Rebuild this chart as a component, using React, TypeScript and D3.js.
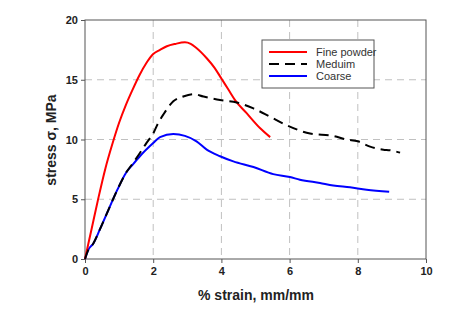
import { useEffect, useRef } from "react"
import * as d3 from "d3"

// Fine powder (red)
const fineX = [0, 0.2, 0.4, 0.6, 0.8, 1.0, 1.2, 1.4, 1.6, 1.8, 2.0, 2.2, 2.4, 2.65, 2.93, 3.1, 3.25, 3.57, 3.8, 4.0, 4.2, 4.4, 4.74, 5.13, 5.43]
const fineY = [0, 2.6, 5.2, 7.6, 9.6, 11.4, 12.9, 14.2, 15.4, 16.4, 17.15, 17.5, 17.8, 18.0, 18.13, 18.0, 17.7, 16.8, 16.0, 15.1, 14.2, 13.3, 12.2, 10.96, 10.2]

// Meduim (black dashed)
const medX = [0, 0.1, 0.24, 0.44, 0.7, 0.95, 1.2, 1.4, 1.61, 1.8, 2.0, 2.15, 2.3, 2.59, 2.88, 3.18, 3.47, 3.96, 4.45, 4.94, 5.43, 5.91, 6.6, 7.28, 7.67, 8.0, 8.36, 8.75, 8.94, 9.24]
const medY = [0, 0.78, 1.28, 2.5, 4.2, 5.8, 7.2, 8.0, 8.87, 9.7, 10.5, 11.4, 12.1, 13.2, 13.6, 13.8, 13.6, 13.3, 13.1, 12.6, 11.9, 11.2, 10.5, 10.3, 10.0, 9.85, 9.4, 9.15, 9.1, 8.9]

// Coarse (blue)
const coarseX = [0, 0.1, 0.24, 0.44, 0.7, 0.95, 1.2, 1.4, 1.61, 2.0, 2.2, 2.59, 2.93, 3.27, 3.57, 3.96, 4.35, 4.94, 5.52, 6.01, 6.3, 6.89, 7.28, 7.77, 8.26, 8.92]
const coarseY = [0, 0.78, 1.28, 2.5, 4.2, 5.8, 7.2, 7.9, 8.6, 9.7, 10.2, 10.45, 10.3, 9.85, 9.15, 8.6, 8.17, 7.7, 7.1, 6.86, 6.64, 6.36, 6.16, 6.0, 5.8, 5.63]

const xTicks = [0, 2, 4, 6, 8, 10]
const yTicks = [0, 5, 10, 15, 20]

const seriesNames = ["Fine powder", "Meduim", "Coarse"]
const seriesColors = ["#ff0000", "#000000", "#0000ff"]
const seriesDash = ["", "10,6", ""]

export default function App() {
  const svgRef = useRef<SVGSVGElement>(null)

  useEffect(() => {
    if (!svgRef.current) return
    const svg = d3.select(svgRef.current)
    svg.selectAll("*").remove()

    const left = 85
    const right = 426
    const top = 20
    const bottom = 259
    const font = "'Liberation Sans', Arial, sans-serif"

    const x = d3.scaleLinear().domain([0, 10]).range([left, right])
    const y = d3.scaleLinear().domain([0, 20]).range([bottom, top])

    svg.append("rect").attr("width", 474).attr("height", 319).attr("fill", "#ffffff")

    // grid
    const grid = svg.append("g")
    grid
      .selectAll(".gx")
      .data(xTicks.slice(1, -1))
      .enter()
      .append("line")
      .attr("x1", (d) => x(d))
      .attr("x2", (d) => x(d))
      .attr("y1", top)
      .attr("y2", bottom)
      .attr("stroke", "#c0c0c0")
      .attr("stroke-dasharray", "7,5")
    grid
      .selectAll(".gy")
      .data(yTicks.slice(1, -1))
      .enter()
      .append("line")
      .attr("x1", left)
      .attr("x2", right)
      .attr("y1", (d) => y(d))
      .attr("y2", (d) => y(d))
      .attr("stroke", "#c0c0c0")
      .attr("stroke-dasharray", "7,5")

    // frame
    svg
      .append("rect")
      .attr("x", left)
      .attr("y", top)
      .attr("width", right - left)
      .attr("height", bottom - top)
      .attr("fill", "none")
      .attr("stroke", "#555555")
      .attr("stroke-width", 1)

    const xAxis = svg
      .append("g")
      .attr("transform", `translate(0,${bottom})`)
      .call(d3.axisBottom(x).tickValues(xTicks).tickSize(4).tickPadding(4))
    const yAxis = svg
      .append("g")
      .attr("transform", `translate(${left},0)`)
      .call(d3.axisLeft(y).tickValues(yTicks).tickSize(4).tickPadding(3))
    ;[xAxis, yAxis].forEach((a) => {
      a.select(".domain").remove()
      a.selectAll("line").attr("stroke", "#555555")
      a.selectAll("text")
        .style("font-family", font)
        .style("font-size", "11px")
        .style("font-weight", "bold")
        .attr("fill", "#222222")
    })

    // titles
    svg
      .append("text")
      .attr("x", 256)
      .attr("y", 300)
      .attr("text-anchor", "middle")
      .style("font-family", font)
      .style("font-size", "14px")
      .style("font-weight", "bold")
      .attr("fill", "#222222")
      .text("% strain, mm/mm")
    svg
      .append("text")
      .attr("transform", `translate(56,140) rotate(-90)`)
      .attr("text-anchor", "middle")
      .style("font-family", font)
      .style("font-size", "14px")
      .style("font-weight", "bold")
      .attr("fill", "#222222")
      .text("stress σ, MPa")

    // lines
    const line = d3
      .line<[number, number]>()
      .x((d) => x(d[0]))
      .y((d) => y(d[1]))
      .curve(d3.curveMonotoneX)
    const series: [number, number][][] = [
      d3.zip(fineX, fineY) as [number, number][],
      d3.zip(medX, medY) as [number, number][],
      d3.zip(coarseX, coarseY) as [number, number][],
    ]
    const order = [2, 0, 1]
    order.forEach((i) => {
      svg
        .append("path")
        .attr("d", line(series[i]))
        .attr("fill", "none")
        .attr("stroke", seriesColors[i])
        .attr("stroke-width", 2)
        .attr("stroke-dasharray", seriesDash[i] || null)
    })

    // legend
    const legend = svg.append("g").attr("transform", "translate(262,40)")
    legend
      .append("rect")
      .attr("width", 112)
      .attr("height", 48)
      .attr("fill", "#ffffff")
      .attr("stroke", "#555555")
    const items = legend
      .selectAll(".legend-item")
      .data(seriesNames)
      .enter()
      .append("g")
      .attr("transform", (d, i) => `translate(0,${12 + i * 12})`)
    items
      .append("line")
      .attr("x1", 7)
      .attr("x2", 45)
      .attr("stroke", (d, i) => seriesColors[i])
      .attr("stroke-width", 2)
      .attr("stroke-dasharray", (d, i) => seriesDash[i] || null)
    items
      .append("text")
      .attr("x", 54)
      .attr("y", 4)
      .style("font-family", font)
      .style("font-size", "11px")
      .attr("fill", "#333333")
      .text((d) => d)
  }, [])

  return (
    <svg
      ref={svgRef}
      width={474}
      height={319}
      style={{ position: "absolute", left: 0, top: 0 }}
    ></svg>
  )
}
